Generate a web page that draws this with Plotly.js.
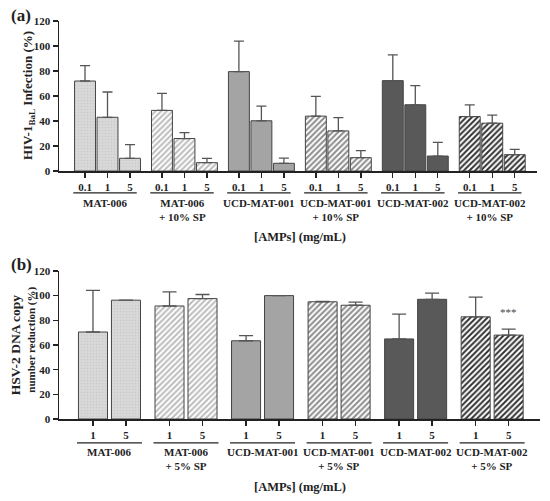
<!DOCTYPE html>
<html><head><meta charset="utf-8">
<script src="https://cdn.plot.ly/plotly-3.0.1.min.js"></script>
<style>html,body{margin:0;padding:0;background:#fff}#chart{width:550px;height:501px}</style>
</head><body><div id="chart"></div>
<script>
// ---------- data ----------
const groupsA = ["MAT-006", "MAT-006<br>+ 10% SP", "UCD-MAT-001", "UCD-MAT-001<br>+ 10% SP", "UCD-MAT-002", "UCD-MAT-002<br>+ 10% SP"];
const concA = ["0.1", "1", "5"];
const meanA = [
  [72, 43, 10.2],
  [48.5, 26, 6.7],
  [79.5, 40.2, 6.2],
  [43.9, 32.1, 10.7],
  [72.3, 53, 12],
  [43.6, 38.3, 13.1]
];
const upperA = [
  [84.3, 63.2, 21.2],
  [62.1, 30.8, 10.2],
  [103.9, 52, 10.4],
  [59.7, 42.8, 16.3],
  [92.9, 68.3, 23],
  [53, 44.7, 17.4]
];
const groupsB = ["MAT-006", "MAT-006<br>+ 5% SP", "UCD-MAT-001", "UCD-MAT-001<br>+ 5% SP", "UCD-MAT-002", "UCD-MAT-002<br>+ 5% SP"];
const concB = ["1", "5"];
const meanB = [
  [70.5, 96.3],
  [91.6, 97.6],
  [63.4, 100],
  [95, 92.2],
  [64.9, 97],
  [82.8, 68]
];
const upperB = [
  [104.3, 96.3],
  [103, 100.9],
  [67.6, 100],
  [95.4, 94.8],
  [85, 102],
  [98.7, 72.8]
];
const yTicks = [0, 20, 40, 60, 80, 100, 120];

// ---------- styles ----------
const styles = [
  {color: "#d6d6d6", pattern: {shape: ".", fgcolor: "#cbcbcb", bgcolor: "#d9d9d9", size: 3, solidity: 0.25}},
  {color: "#ffffff", pattern: {shape: "/", fgcolor: "#bdbdbd", bgcolor: "#ffffff", size: 4, solidity: 0.5}},
  {color: "#a4a4a4"},
  {color: "#ffffff", pattern: {shape: "/", fgcolor: "#8c8c8c", bgcolor: "#ffffff", size: 4, solidity: 0.5}},
  {color: "#595959"},
  {color: "#ffffff", pattern: {shape: "/", fgcolor: "#333333", bgcolor: "#ffffff", size: 4, solidity: 0.5}}
];
const FONT = "Liberation Serif, Times New Roman, serif";
const TXT = "#222222";
const GA = 3.42, GB = 2.32;   // group pitch in bar units

const traces = [];
const tickValsA = [], tickTextA = [], tickValsB = [], tickTextB = [];
const shapes = [], annotations = [];

groupsA.forEach((g, gi) => {
  const xs = concA.map((c, i) => gi * GA + (i - 1));
  xs.forEach((x, i) => { tickValsA.push(x); tickTextA.push(concA[i]); });
  traces.push({
    type: "bar", x: xs, y: meanA[gi], xaxis: "x", yaxis: "y", width: 0.93,
    marker: Object.assign({line: {color: "#444", width: 1}}, styles[gi]),
    error_y: {type: "data", symmetric: false, array: upperA[gi].map((u, i) => u - meanA[gi][i]),
      arrayminus: meanA[gi].map(() => 0), color: "#555", thickness: 1.3, width: 5},
    showlegend: false, hoverinfo: "x+y"
  });
  shapes.push({type: "line", xref: "x", yref: "paper", x0: gi * GA - 1.52, x1: gi * GA + 1.3,
    y0: 0.568, y1: 0.568, line: {color: "#222", width: 1.3}});
  annotations.push({xref: "x", yref: "paper", x: gi * GA - 0.1, y: 0.562, xanchor: "center", yanchor: "top", showarrow: false,
    text: "<b>" + g + "</b>", font: {family: FONT, size: 11, color: TXT}});
});

groupsB.forEach((g, gi) => {
  const xs = concB.map((c, i) => gi * GB + (i - 0.5));
  xs.forEach((x, i) => { tickValsB.push(x); tickTextB.push(concB[i]); });
  traces.push({
    type: "bar", x: xs, y: meanB[gi], xaxis: "x2", yaxis: "y2", width: 0.88,
    marker: Object.assign({line: {color: "#444", width: 1}}, styles[gi]),
    error_y: {type: "data", symmetric: false, array: upperB[gi].map((u, i) => u - meanB[gi][i]),
      arrayminus: meanB[gi].map(() => 0), color: "#555", thickness: 1.3, width: 7},
    showlegend: false, hoverinfo: "x+y"
  });
  shapes.push({type: "line", xref: "x2", yref: "paper", x0: gi * GB - 0.985, x1: gi * GB + 0.985,
    y0: -0.060, y1: -0.060, line: {color: "#222", width: 1.3}});
  annotations.push({xref: "x2", yref: "paper", x: gi * GB, y: -0.064, xanchor: "center", yanchor: "top", showarrow: false,
    text: "<b>" + g + "</b>", font: {family: FONT, size: 11, color: TXT}});
});

annotations.push(
  {xref: "paper", yref: "paper", x: 0.5, y: 0.457, xanchor: "center", yanchor: "middle", showarrow: false,
   text: "<b>[AMPs] (mg/mL)</b>", font: {family: FONT, size: 12.5, color: TXT}},
  {xref: "paper", yref: "paper", x: 0.5, y: -0.171, xanchor: "center", yanchor: "middle", showarrow: false,
   text: "<b>[AMPs] (mg/mL)</b>", font: {family: FONT, size: 12.5, color: TXT}},
  {xref: "paper", yref: "paper", x: -0.079, y: 1.015, xanchor: "center", yanchor: "middle", showarrow: false,
   text: "<b>(a)</b>", font: {family: FONT, size: 17, color: TXT}},
  {xref: "paper", yref: "paper", x: -0.079, y: 0.387, xanchor: "center", yanchor: "middle", showarrow: false,
   text: "<b>(b)</b>", font: {family: FONT, size: 17, color: TXT}},
  {xref: "paper", yref: "paper", x: -0.0644, y: 0.8115, xanchor: "center", yanchor: "middle", textangle: -90,
   showarrow: false, text: "<b>HIV-1<sub>BaL</sub> Infection (%)</b>", font: {family: FONT, size: 13, color: TXT}},
  {xref: "paper", yref: "paper", x: -0.0915, y: 0.188, xanchor: "center", yanchor: "middle", textangle: -90,
   showarrow: false, text: "<b>HSV-2 DNA copy</b>", font: {family: FONT, size: 13.5, color: TXT}},
  {xref: "paper", yref: "paper", x: -0.0575, y: 0.2, xanchor: "center", yanchor: "middle", textangle: -90,
   showarrow: false, text: "<b>number reduction (%)</b>", font: {family: FONT, size: 11, color: TXT}},
  {xref: "x2", yref: "y2", x: 5 * GB + 0.5, y: 87, xanchor: "center", yanchor: "middle", showarrow: false,
   text: "***", font: {family: FONT, size: 11, color: "#444"}}
);

const axisCommon = {
  showgrid: false, zeroline: false, showline: true, linecolor: "#222", linewidth: 1.5,
  ticks: "outside", ticklen: 5, tickwidth: 1.3, tickcolor: "#222",
  tickfont: {family: FONT, size: 11, color: TXT}
};

const layout = {
  width: 550, height: 501,
  margin: {l: 59, r: 10, t: 21, b: 82},
  paper_bgcolor: "#ffffff", plot_bgcolor: "#ffffff",
  font: {family: FONT, color: TXT},
  xaxis: Object.assign({}, axisCommon, {domain: [0, 0.9938], range: [-2.156, 19.09], anchor: "y",
    tickmode: "array", tickvals: tickValsA, ticktext: tickTextA.map(t => "<b>" + t + "</b>")}),
  yaxis: Object.assign({}, axisCommon, {domain: [0.623, 1], range: [0, 120], anchor: "x",
    tickmode: "array", tickvals: yTicks, ticktext: yTicks.map(t => "<b>" + t + "</b>")}),
  xaxis2: Object.assign({}, axisCommon, {domain: [0, 1], range: [-1.53, 13.05], anchor: "y2",
    tickmode: "array", tickvals: tickValsB, ticktext: tickTextB.map(t => "<b>" + t + "</b>")}),
  yaxis2: Object.assign({}, axisCommon, {domain: [0, 0.372], range: [0, 120], anchor: "x2",
    tickmode: "array", tickvals: yTicks, ticktext: yTicks.map(t => "<b>" + t + "</b>")}),
  shapes: shapes,
  annotations: annotations,
  bargap: 0
};

Plotly.newPlot("chart", traces, layout, {displayModeBar: false, staticPlot: true});
</script></body></html>
